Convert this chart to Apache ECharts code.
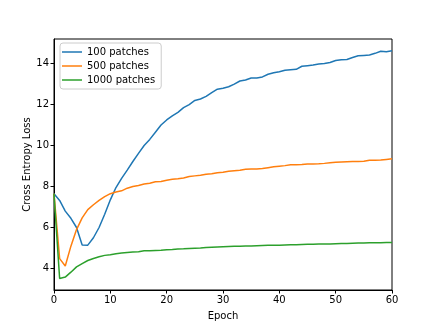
<!DOCTYPE html>
<html>
<head>
<meta charset="utf-8">
<script src="https://cdn.jsdelivr.net/npm/echarts@6/dist/echarts.min.js"></script>
<style>
  html, body { margin: 0; padding: 0; background: #fff; }
  #chart { width: 436px; height: 327px; }
</style>
</head>
<body>
<div id="chart"></div>
<script>
// epochs 0..60
const epochs = [];
for (let i = 0; i <= 60; i++) epochs.push(i);

const loss100 = [
  7.65, 7.32, 6.8, 6.45, 6.0, 5.15, 5.14, 5.5, 6.0, 6.65,
  7.35, 7.95, 8.4, 8.8, 9.22, 9.62, 10.0, 10.3, 10.65, 11.0,
  11.25, 11.45, 11.62, 11.85, 12.0, 12.2, 12.27, 12.4, 12.58, 12.75,
  12.8, 12.87, 13.0, 13.15, 13.2, 13.3, 13.3, 13.35, 13.48, 13.55,
  13.6, 13.67, 13.7, 13.72, 13.87, 13.9, 13.93, 13.98, 14.0, 14.05,
  14.15, 14.19, 14.2, 14.3, 14.38, 14.4, 14.42, 14.5, 14.6, 14.58,
  14.63
];
const loss500 = [
  7.65, 4.48, 4.12, 5.09, 5.9, 6.47, 6.87, 7.11, 7.32, 7.51,
  7.65, 7.73, 7.79, 7.92, 8.0, 8.05, 8.12, 8.16, 8.23, 8.25,
  8.31, 8.35, 8.38, 8.42, 8.49, 8.52, 8.55, 8.6, 8.62, 8.67,
  8.7, 8.74, 8.77, 8.8, 8.84, 8.85, 8.86, 8.88, 8.92, 8.96,
  8.99, 9.02, 9.06, 9.06, 9.07, 9.1, 9.1, 9.11, 9.13, 9.16,
  9.19, 9.2, 9.21, 9.22, 9.22, 9.23, 9.28, 9.28, 9.29, 9.32,
  9.35
];
const loss1000 = [
  7.65, 3.51, 3.58, 3.82, 4.08, 4.24, 4.39, 4.49, 4.57, 4.64,
  4.67, 4.72, 4.75, 4.78, 4.8, 4.82, 4.86, 4.87, 4.88, 4.89,
  4.92, 4.93, 4.95, 4.96, 4.98, 4.99, 5.0, 5.03, 5.04, 5.05,
  5.06, 5.07, 5.08, 5.09, 5.1, 5.1, 5.11, 5.12, 5.13, 5.14,
  5.14, 5.15, 5.16, 5.16, 5.17, 5.18, 5.18, 5.19, 5.2, 5.2,
  5.21, 5.22, 5.22, 5.23, 5.24, 5.24, 5.25, 5.26, 5.26, 5.27,
  5.27
];
const yTicks = [4, 6, 8, 10, 12, 14];

const font = "DejaVu Sans";
const chart = echarts.init(document.getElementById("chart"));

function pairs(ys) {
  return epochs.map((x, i) => [x, ys[i]]);
}

function line(name, ys, color) {
  return {
    name: name,
    type: "line",
    data: pairs(ys),
    symbol: "none",
    lineStyle: { color: color, width: 1.5 },
    itemStyle: { color: color },
    animation: false,
  };
}

chart.setOption({
  animation: false,
  grid: {
    left: 54,
    right: 44,
    top: 39,
    bottom: 37,
    show: true,
    borderColor: "#000",
    borderWidth: 1,
  },
  legend: {
    orient: "vertical",
    left: 60,
    top: 43,
    icon: "rect",
    itemWidth: 20,
    itemHeight: 1.5,
    itemGap: 2,
    padding: [3, 6, 3, 2],
    borderColor: "#ccc",
    borderWidth: 1,
    borderRadius: 3,
    backgroundColor: "#fff",
    textStyle: { fontFamily: font, fontSize: 10, color: "#000", lineHeight: 12 },
    data: ["100 patches", "500 patches", "1000 patches"],
  },
  xAxis: {
    type: "value",
    min: 0,
    max: 60,
    interval: 10,
    name: "Epoch",
    nameLocation: "middle",
    nameGap: 21,
    nameTextStyle: { fontFamily: font, fontSize: 10, color: "#000" },
    axisLine: { lineStyle: { color: "#000", width: 1 } },
    axisTick: { length: 3.5, lineStyle: { color: "#000" } },
    axisLabel: { fontFamily: font, fontSize: 10, color: "#000", margin: 5 },
    splitLine: { show: false },
  },
  yAxis: {
    type: "value",
    min: 2.95,
    max: 15.2,
    name: "Cross Entropy Loss",
    nameLocation: "middle",
    nameGap: 22,
    nameMoveOverlap: false,
    nameTextStyle: { fontFamily: font, fontSize: 10, color: "#000" },
    axisLine: { show: true, lineStyle: { color: "#000", width: 1 } },
    axisTick: {
      show: true,
      length: 3.5,
      lineStyle: { color: "#000" },
      customValues: yTicks,
    },
    axisLabel: {
      fontFamily: font,
      fontSize: 10,
      color: "#000",
      margin: 5,
      customValues: yTicks,
    },
    splitLine: { show: false },
  },
  series: [
    line("100 patches", loss100, "#1f77b4"),
    line("500 patches", loss500, "#ff7f0e"),
    line("1000 patches", loss1000, "#2ca02c"),
  ],
});
</script>
</body>
</html>
